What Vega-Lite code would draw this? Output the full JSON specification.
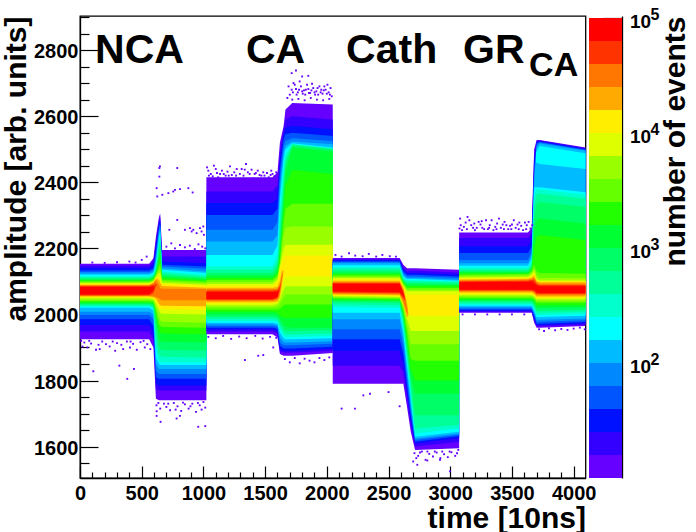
{
"$schema":"https://vega.github.io/schema/vega-lite/v6.json",
"description":"Pulse shapes by time and amplitude, number of events",
"background":"white",
"autosize":{"type":"none"},
"padding":{"left":80,"top":16,"right":616,"bottom":516},
"bounds":"flush",
"config":{"font":"Liberation Sans","axis":{"labelFont":"Liberation Sans","labelFontWeight":"bold","labelColor":"#000","labelFontSize":20,"titleFont":"Liberation Sans","titleFontWeight":"bold","titleColor":"#000","titleFontSize":30,"domainColor":"#000","domainWidth":1.3,"tickColor":"#000","tickWidth":1.2,"grid":false}},
"spacing":3,
"hconcat":[
{"width":505.5,"height":462,"view":{"stroke":"#000","strokeWidth":1.3},
"resolve":{"axis":{"x":"independent","y":"independent"}},
"layer":[
{"data":{"values":[
{"s":1,"n":12.6,"t":0,"lo":1925,"hi":2153},{"s":1,"n":12.6,"t":560,"lo":1925,"hi":2153},{"s":1,"n":12.6,"t":595,"lo":1900,"hi":2170},{"s":1,"n":12.6,"t":615,"lo":1745,"hi":2235},{"s":1,"n":12.6,"t":640,"lo":1740,"hi":2295},{"s":1,"n":12.6,"t":650,"lo":1740,"hi":2305},{"s":1,"n":12.6,"t":665,"lo":1740,"hi":2195},{"s":1,"n":12.6,"t":1024,"lo":1740,"hi":2195},
{"s":1,"n":20,"t":0,"lo":1948,"hi":2147},{"s":1,"n":20,"t":560,"lo":1948,"hi":2147},{"s":1,"n":20,"t":595,"lo":1925,"hi":2160},{"s":1,"n":20,"t":615,"lo":1775,"hi":2220},{"s":1,"n":20,"t":640,"lo":1770,"hi":2285},{"s":1,"n":20,"t":650,"lo":1770,"hi":2295},{"s":1,"n":20,"t":665,"lo":1770,"hi":2175},{"s":1,"n":20,"t":1024,"lo":1770,"hi":2175},
{"s":1,"n":32,"t":0,"lo":1968,"hi":2140},{"s":1,"n":32,"t":560,"lo":1968,"hi":2140},{"s":1,"n":32,"t":595,"lo":1945,"hi":2150},{"s":1,"n":32,"t":615,"lo":1790,"hi":2205},{"s":1,"n":32,"t":640,"lo":1785,"hi":2275},{"s":1,"n":32,"t":650,"lo":1785,"hi":2285},{"s":1,"n":32,"t":665,"lo":1785,"hi":2160},{"s":1,"n":32,"t":1024,"lo":1785,"hi":2155},
{"s":1,"n":50,"t":0,"lo":1985,"hi":2133},{"s":1,"n":50,"t":560,"lo":1985,"hi":2133},{"s":1,"n":50,"t":595,"lo":1965,"hi":2140},{"s":1,"n":50,"t":615,"lo":1810,"hi":2190},{"s":1,"n":50,"t":640,"lo":1805,"hi":2265},{"s":1,"n":50,"t":650,"lo":1805,"hi":2278},{"s":1,"n":50,"t":665,"lo":1805,"hi":2150},{"s":1,"n":50,"t":1024,"lo":1805,"hi":2145},
{"s":1,"n":79,"t":0,"lo":1998,"hi":2128},{"s":1,"n":79,"t":560,"lo":1998,"hi":2128},{"s":1,"n":79,"t":595,"lo":1985,"hi":2135},{"s":1,"n":79,"t":615,"lo":1830,"hi":2175},{"s":1,"n":79,"t":640,"lo":1820,"hi":2255},{"s":1,"n":79,"t":650,"lo":1820,"hi":2270},{"s":1,"n":79,"t":665,"lo":1820,"hi":2145},{"s":1,"n":79,"t":1024,"lo":1820,"hi":2138},
{"s":1,"n":126,"t":0,"lo":2008,"hi":2124},{"s":1,"n":126,"t":560,"lo":2008,"hi":2124},{"s":1,"n":126,"t":595,"lo":2000,"hi":2130},{"s":1,"n":126,"t":615,"lo":1850,"hi":2165},{"s":1,"n":126,"t":640,"lo":1835,"hi":2245},{"s":1,"n":126,"t":650,"lo":1835,"hi":2260},{"s":1,"n":126,"t":665,"lo":1835,"hi":2140},{"s":1,"n":126,"t":1024,"lo":1835,"hi":2130},
{"s":1,"n":200,"t":0,"lo":2020,"hi":2120},{"s":1,"n":200,"t":560,"lo":2020,"hi":2120},{"s":1,"n":200,"t":595,"lo":2012,"hi":2126},{"s":1,"n":200,"t":615,"lo":1870,"hi":2155},{"s":1,"n":200,"t":640,"lo":1850,"hi":2235},{"s":1,"n":200,"t":650,"lo":1848,"hi":2250},{"s":1,"n":200,"t":665,"lo":1847,"hi":2135},{"s":1,"n":200,"t":1024,"lo":1847,"hi":2125},
{"s":1,"n":316,"t":0,"lo":2024,"hi":2116},{"s":1,"n":316,"t":560,"lo":2024,"hi":2116},{"s":1,"n":316,"t":595,"lo":2018,"hi":2122},{"s":1,"n":316,"t":615,"lo":1900,"hi":2145},{"s":1,"n":316,"t":640,"lo":1860,"hi":2220},{"s":1,"n":316,"t":650,"lo":1857,"hi":2240},{"s":1,"n":316,"t":665,"lo":1855,"hi":2130},{"s":1,"n":316,"t":1024,"lo":1855,"hi":2120},
{"s":1,"n":501,"t":0,"lo":2027,"hi":2112},{"s":1,"n":501,"t":560,"lo":2027,"hi":2112},{"s":1,"n":501,"t":595,"lo":2022,"hi":2118},{"s":1,"n":501,"t":615,"lo":1930,"hi":2138},{"s":1,"n":501,"t":640,"lo":1880,"hi":2205},{"s":1,"n":501,"t":650,"lo":1875,"hi":2225},{"s":1,"n":501,"t":665,"lo":1872,"hi":2125},{"s":1,"n":501,"t":1024,"lo":1870,"hi":2115},
{"s":1,"n":794,"t":0,"lo":2030,"hi":2109},{"s":1,"n":794,"t":560,"lo":2030,"hi":2109},{"s":1,"n":794,"t":595,"lo":2026,"hi":2115},{"s":1,"n":794,"t":615,"lo":1960,"hi":2132},{"s":1,"n":794,"t":640,"lo":1900,"hi":2190},{"s":1,"n":794,"t":650,"lo":1895,"hi":2210},{"s":1,"n":794,"t":665,"lo":1892,"hi":2120},{"s":1,"n":794,"t":1024,"lo":1890,"hi":2111},
{"s":1,"n":1259,"t":0,"lo":2033,"hi":2106},{"s":1,"n":1259,"t":560,"lo":2033,"hi":2106},{"s":1,"n":1259,"t":595,"lo":2030,"hi":2112},{"s":1,"n":1259,"t":615,"lo":1985,"hi":2128},{"s":1,"n":1259,"t":640,"lo":1925,"hi":2175},{"s":1,"n":1259,"t":650,"lo":1920,"hi":2195},{"s":1,"n":1259,"t":665,"lo":1917,"hi":2115},{"s":1,"n":1259,"t":1024,"lo":1915,"hi":2107},
{"s":1,"n":1995,"t":0,"lo":2036,"hi":2103},{"s":1,"n":1995,"t":560,"lo":2036,"hi":2103},{"s":1,"n":1995,"t":595,"lo":2034,"hi":2109},{"s":1,"n":1995,"t":615,"lo":2000,"hi":2124},{"s":1,"n":1995,"t":640,"lo":1950,"hi":2160},{"s":1,"n":1995,"t":650,"lo":1945,"hi":2175},{"s":1,"n":1995,"t":665,"lo":1942,"hi":2110},{"s":1,"n":1995,"t":1024,"lo":1940,"hi":2103},
{"s":1,"n":3162,"t":0,"lo":2040,"hi":2100},{"s":1,"n":3162,"t":560,"lo":2040,"hi":2100},{"s":1,"n":3162,"t":595,"lo":2038,"hi":2106},{"s":1,"n":3162,"t":615,"lo":2012,"hi":2120},{"s":1,"n":3162,"t":640,"lo":1970,"hi":2145},{"s":1,"n":3162,"t":650,"lo":1965,"hi":2155},{"s":1,"n":3162,"t":665,"lo":1962,"hi":2105},{"s":1,"n":3162,"t":1024,"lo":1960,"hi":2099},
{"s":1,"n":5012,"t":0,"lo":2044,"hi":2097},{"s":1,"n":5012,"t":560,"lo":2044,"hi":2097},{"s":1,"n":5012,"t":595,"lo":2042,"hi":2103},{"s":1,"n":5012,"t":615,"lo":2022,"hi":2117},{"s":1,"n":5012,"t":640,"lo":1990,"hi":2135},{"s":1,"n":5012,"t":650,"lo":1982,"hi":2140},{"s":1,"n":5012,"t":665,"lo":1978,"hi":2100},{"s":1,"n":5012,"t":1024,"lo":1975,"hi":2095},
{"s":1,"n":7943,"t":0,"lo":2048,"hi":2095},{"s":1,"n":7943,"t":560,"lo":2048,"hi":2095},{"s":1,"n":7943,"t":595,"lo":2046,"hi":2100},{"s":1,"n":7943,"t":615,"lo":2032,"hi":2114},{"s":1,"n":7943,"t":640,"lo":2010,"hi":2125},{"s":1,"n":7943,"t":650,"lo":2004,"hi":2125},{"s":1,"n":7943,"t":665,"lo":2002,"hi":2096},{"s":1,"n":7943,"t":1024,"lo":2000,"hi":2090},
{"s":1,"n":12589,"t":0,"lo":2051,"hi":2092},{"s":1,"n":12589,"t":560,"lo":2051,"hi":2092},{"s":1,"n":12589,"t":595,"lo":2049,"hi":2098},{"s":1,"n":12589,"t":615,"lo":2040,"hi":2111},{"s":1,"n":12589,"t":640,"lo":2022,"hi":2115},{"s":1,"n":12589,"t":650,"lo":2018,"hi":2110},{"s":1,"n":12589,"t":665,"lo":2016,"hi":2092},{"s":1,"n":12589,"t":1024,"lo":2015,"hi":2087},
{"s":1,"n":19953,"t":0,"lo":2054,"hi":2090},{"s":1,"n":19953,"t":560,"lo":2054,"hi":2090},{"s":1,"n":19953,"t":595,"lo":2052,"hi":2096},{"s":1,"n":19953,"t":615,"lo":2048,"hi":2108},{"s":1,"n":19953,"t":640,"lo":2032,"hi":2105},{"s":1,"n":19953,"t":650,"lo":2028,"hi":2095},{"s":1,"n":19953,"t":665,"lo":2026,"hi":2086},{"s":1,"n":19953,"t":1024,"lo":2025,"hi":2081},
{"s":1,"n":31623,"t":0,"lo":2056,"hi":2088},{"s":1,"n":31623,"t":560,"lo":2056,"hi":2088},{"s":1,"n":31623,"t":595,"lo":2055,"hi":2094},{"s":1,"n":31623,"t":615,"lo":2053,"hi":2104},{"s":1,"n":31623,"t":640,"lo":2048,"hi":2090},{"s":1,"n":31623,"t":650,"lo":2045,"hi":2080},{"s":1,"n":31623,"t":665,"lo":2043,"hi":2078},{"s":1,"n":31623,"t":1024,"lo":2043,"hi":2077},
{"s":1,"n":50119,"t":0,"lo":2058,"hi":2086},{"s":1,"n":50119,"t":560,"lo":2058,"hi":2086},{"s":1,"n":50119,"t":595,"lo":2064,"hi":2090},{"s":1,"n":50119,"t":615,"lo":2085,"hi":2092},{"s":1,"n":50119,"t":625,"lo":2088,"hi":2088},
{"s":1,"n":79433,"t":0,"lo":2060,"hi":2083},{"s":1,"n":79433,"t":560,"lo":2060,"hi":2083},{"s":1,"n":79433,"t":595,"lo":2072,"hi":2086},{"s":1,"n":79433,"t":605,"lo":2080,"hi":2080},

{"s":2,"n":12.6,"t":1024,"lo":1940,"hi":2415},{"s":2,"n":12.6,"t":1560,"lo":1940,"hi":2415},{"s":2,"n":12.6,"t":1600,"lo":1930,"hi":2430},{"s":2,"n":12.6,"t":1620,"lo":1880,"hi":2520},{"s":2,"n":12.6,"t":1650,"lo":1875,"hi":2570},{"s":2,"n":12.6,"t":1665,"lo":1875,"hi":2620},{"s":2,"n":12.6,"t":1720,"lo":1875,"hi":2640},{"s":2,"n":12.6,"t":2048,"lo":1883,"hi":2635},
{"s":2,"n":20,"t":1024,"lo":1948,"hi":2372},{"s":2,"n":20,"t":1560,"lo":1948,"hi":2372},{"s":2,"n":20,"t":1600,"lo":1942,"hi":2390},{"s":2,"n":20,"t":1620,"lo":1888,"hi":2490},{"s":2,"n":20,"t":1650,"lo":1885,"hi":2560},{"s":2,"n":20,"t":1665,"lo":1885,"hi":2590},{"s":2,"n":20,"t":1720,"lo":1885,"hi":2600},{"s":2,"n":20,"t":2048,"lo":1890,"hi":2590},
{"s":2,"n":32,"t":1024,"lo":1955,"hi":2337},{"s":2,"n":32,"t":1560,"lo":1955,"hi":2337},{"s":2,"n":32,"t":1600,"lo":1950,"hi":2350},{"s":2,"n":32,"t":1620,"lo":1895,"hi":2470},{"s":2,"n":32,"t":1650,"lo":1890,"hi":2545},{"s":2,"n":32,"t":1665,"lo":1890,"hi":2565},{"s":2,"n":32,"t":1720,"lo":1890,"hi":2570},{"s":2,"n":32,"t":2048,"lo":1896,"hi":2560},
{"s":2,"n":50,"t":1024,"lo":1960,"hi":2301},{"s":2,"n":50,"t":1560,"lo":1960,"hi":2301},{"s":2,"n":50,"t":1600,"lo":1957,"hi":2320},{"s":2,"n":50,"t":1620,"lo":1905,"hi":2440},{"s":2,"n":50,"t":1650,"lo":1897,"hi":2530},{"s":2,"n":50,"t":1665,"lo":1897,"hi":2545},{"s":2,"n":50,"t":1720,"lo":1897,"hi":2550},{"s":2,"n":50,"t":2048,"lo":1902,"hi":2540},
{"s":2,"n":79,"t":1024,"lo":1965,"hi":2256},{"s":2,"n":79,"t":1560,"lo":1965,"hi":2256},{"s":2,"n":79,"t":1600,"lo":1962,"hi":2280},{"s":2,"n":79,"t":1620,"lo":1915,"hi":2410},{"s":2,"n":79,"t":1650,"lo":1907,"hi":2510},{"s":2,"n":79,"t":1665,"lo":1907,"hi":2525},{"s":2,"n":79,"t":1720,"lo":1907,"hi":2533},{"s":2,"n":79,"t":2048,"lo":1911,"hi":2525},
{"s":2,"n":126,"t":1024,"lo":1970,"hi":2221},{"s":2,"n":126,"t":1560,"lo":1970,"hi":2221},{"s":2,"n":126,"t":1600,"lo":1967,"hi":2240},{"s":2,"n":126,"t":1620,"lo":1930,"hi":2380},{"s":2,"n":126,"t":1650,"lo":1916,"hi":2490},{"s":2,"n":126,"t":1665,"lo":1915,"hi":2510},{"s":2,"n":126,"t":1720,"lo":1915,"hi":2523},{"s":2,"n":126,"t":2048,"lo":1919,"hi":2515},
{"s":2,"n":200,"t":1024,"lo":1975,"hi":2180},{"s":2,"n":200,"t":1560,"lo":1975,"hi":2180},{"s":2,"n":200,"t":1600,"lo":1972,"hi":2210},{"s":2,"n":200,"t":1620,"lo":1945,"hi":2350},{"s":2,"n":200,"t":1650,"lo":1928,"hi":2470},{"s":2,"n":200,"t":1665,"lo":1925,"hi":2500},{"s":2,"n":200,"t":1720,"lo":1925,"hi":2518},{"s":2,"n":200,"t":2048,"lo":1928,"hi":2505},
{"s":2,"n":316,"t":1024,"lo":1980,"hi":2145},{"s":2,"n":316,"t":1560,"lo":1980,"hi":2145},{"s":2,"n":316,"t":1600,"lo":1977,"hi":2180},{"s":2,"n":316,"t":1620,"lo":1955,"hi":2310},{"s":2,"n":316,"t":1650,"lo":1936,"hi":2440},{"s":2,"n":316,"t":1665,"lo":1932,"hi":2485},{"s":2,"n":316,"t":1720,"lo":1932,"hi":2516},{"s":2,"n":316,"t":2048,"lo":1935,"hi":2503},
{"s":2,"n":501,"t":1024,"lo":1986,"hi":2135},{"s":2,"n":501,"t":1560,"lo":1986,"hi":2135},{"s":2,"n":501,"t":1600,"lo":1983,"hi":2160},{"s":2,"n":501,"t":1620,"lo":1965,"hi":2270},{"s":2,"n":501,"t":1650,"lo":1945,"hi":2410},{"s":2,"n":501,"t":1665,"lo":1940,"hi":2470},{"s":2,"n":501,"t":1720,"lo":1940,"hi":2514},{"s":2,"n":501,"t":2048,"lo":1942,"hi":2501},
{"s":2,"n":794,"t":1024,"lo":1993,"hi":2125},{"s":2,"n":794,"t":1560,"lo":1993,"hi":2125},{"s":2,"n":794,"t":1600,"lo":1990,"hi":2145},{"s":2,"n":794,"t":1620,"lo":1975,"hi":2230},{"s":2,"n":794,"t":1650,"lo":1955,"hi":2380},{"s":2,"n":794,"t":1665,"lo":1950,"hi":2455},{"s":2,"n":794,"t":1720,"lo":1950,"hi":2512},{"s":2,"n":794,"t":2048,"lo":1952,"hi":2499},
{"s":2,"n":1259,"t":1024,"lo":2000,"hi":2117},{"s":2,"n":1259,"t":1560,"lo":2000,"hi":2117},{"s":2,"n":1259,"t":1600,"lo":1997,"hi":2135},{"s":2,"n":1259,"t":1620,"lo":1985,"hi":2200},{"s":2,"n":1259,"t":1650,"lo":1970,"hi":2350},{"s":2,"n":1259,"t":1665,"lo":1962,"hi":2430},{"s":2,"n":1259,"t":1720,"lo":1960,"hi":2505},{"s":2,"n":1259,"t":2048,"lo":1960,"hi":2493},
{"s":2,"n":1995,"t":1024,"lo":2008,"hi":2110},{"s":2,"n":1995,"t":1560,"lo":2008,"hi":2110},{"s":2,"n":1995,"t":1600,"lo":2005,"hi":2125},{"s":2,"n":1995,"t":1620,"lo":1997,"hi":2175},{"s":2,"n":1995,"t":1650,"lo":1990,"hi":2310},{"s":2,"n":1995,"t":1665,"lo":1990,"hi":2390},{"s":2,"n":1995,"t":1720,"lo":1990,"hi":2437},{"s":2,"n":1995,"t":2048,"lo":1990,"hi":2425},
{"s":2,"n":3162,"t":1024,"lo":2015,"hi":2104},{"s":2,"n":3162,"t":1560,"lo":2015,"hi":2104},{"s":2,"n":3162,"t":1600,"lo":2015,"hi":2118},{"s":2,"n":3162,"t":1620,"lo":2018,"hi":2160},{"s":2,"n":3162,"t":1650,"lo":2028,"hi":2280},{"s":2,"n":3162,"t":1665,"lo":2030,"hi":2320},{"s":2,"n":3162,"t":1720,"lo":2030,"hi":2335},{"s":2,"n":3162,"t":2048,"lo":2030,"hi":2335},
{"s":2,"n":5012,"t":1024,"lo":2022,"hi":2098},{"s":2,"n":5012,"t":1560,"lo":2022,"hi":2098},{"s":2,"n":5012,"t":1600,"lo":2024,"hi":2112},{"s":2,"n":5012,"t":1620,"lo":2032,"hi":2150},{"s":2,"n":5012,"t":1650,"lo":2052,"hi":2240},{"s":2,"n":5012,"t":1665,"lo":2060,"hi":2262},{"s":2,"n":5012,"t":1720,"lo":2060,"hi":2266},{"s":2,"n":5012,"t":2048,"lo":2060,"hi":2266},
{"s":2,"n":7943,"t":1024,"lo":2028,"hi":2092},{"s":2,"n":7943,"t":1560,"lo":2028,"hi":2092},{"s":2,"n":7943,"t":1600,"lo":2032,"hi":2105},{"s":2,"n":7943,"t":1620,"lo":2045,"hi":2145},{"s":2,"n":7943,"t":1650,"lo":2075,"hi":2200},{"s":2,"n":7943,"t":1665,"lo":2085,"hi":2210},{"s":2,"n":7943,"t":1720,"lo":2085,"hi":2211},{"s":2,"n":7943,"t":2048,"lo":2085,"hi":2211},
{"s":2,"n":12589,"t":1024,"lo":2033,"hi":2087},{"s":2,"n":12589,"t":1560,"lo":2034,"hi":2087},{"s":2,"n":12589,"t":1600,"lo":2042,"hi":2100},{"s":2,"n":12589,"t":1620,"lo":2065,"hi":2140},{"s":2,"n":12589,"t":1650,"lo":2100,"hi":2170},{"s":2,"n":12589,"t":1665,"lo":2115,"hi":2178},{"s":2,"n":12589,"t":1720,"lo":2115,"hi":2178},{"s":2,"n":12589,"t":2048,"lo":2115,"hi":2178},
{"s":2,"n":19953,"t":1024,"lo":2037,"hi":2081},{"s":2,"n":19953,"t":1560,"lo":2037,"hi":2081},{"s":2,"n":19953,"t":1600,"lo":2039,"hi":2083},{"s":2,"n":19953,"t":1620,"lo":2052,"hi":2102},{"s":2,"n":19953,"t":1634,"lo":2085,"hi":2130},{"s":2,"n":19953,"t":1650,"lo":2135,"hi":2135},
{"s":2,"n":31623,"t":1024,"lo":2041,"hi":2076},{"s":2,"n":31623,"t":1560,"lo":2041,"hi":2076},{"s":2,"n":31623,"t":1600,"lo":2045,"hi":2078},{"s":2,"n":31623,"t":1620,"lo":2062,"hi":2092},{"s":2,"n":31623,"t":1634,"lo":2100,"hi":2118},{"s":2,"n":31623,"t":1648,"lo":2128,"hi":2128},
{"s":2,"n":50119,"t":1024,"lo":2044,"hi":2072},{"s":2,"n":50119,"t":1560,"lo":2044,"hi":2072},{"s":2,"n":50119,"t":1600,"lo":2050,"hi":2074},{"s":2,"n":50119,"t":1620,"lo":2075,"hi":2085},{"s":2,"n":50119,"t":1632,"lo":2100,"hi":2100},
{"s":2,"n":79433,"t":1024,"lo":2047,"hi":2068},{"s":2,"n":79433,"t":1560,"lo":2047,"hi":2068},{"s":2,"n":79433,"t":1600,"lo":2052,"hi":2069},{"s":2,"n":79433,"t":1615,"lo":2075,"hi":2075},

{"s":3,"n":12.6,"t":2048,"lo":1790,"hi":2171},{"s":3,"n":12.6,"t":2590,"lo":1790,"hi":2171},{"s":3,"n":12.6,"t":2620,"lo":1790,"hi":2150},{"s":3,"n":12.6,"t":2650,"lo":1720,"hi":2140},{"s":3,"n":12.6,"t":2680,"lo":1645,"hi":2140},{"s":3,"n":12.6,"t":2715,"lo":1590,"hi":2140},{"s":3,"n":12.6,"t":3072,"lo":1595,"hi":2135},
{"s":3,"n":20,"t":2048,"lo":1845,"hi":2167},{"s":3,"n":20,"t":2590,"lo":1845,"hi":2167},{"s":3,"n":20,"t":2620,"lo":1825,"hi":2142},{"s":3,"n":20,"t":2650,"lo":1745,"hi":2132},{"s":3,"n":20,"t":2680,"lo":1665,"hi":2132},{"s":3,"n":20,"t":2715,"lo":1600,"hi":2132},{"s":3,"n":20,"t":3072,"lo":1615,"hi":2127},
{"s":3,"n":32,"t":2048,"lo":1890,"hi":2164},{"s":3,"n":32,"t":2590,"lo":1890,"hi":2164},{"s":3,"n":32,"t":2620,"lo":1850,"hi":2136},{"s":3,"n":32,"t":2650,"lo":1765,"hi":2125},{"s":3,"n":32,"t":2680,"lo":1680,"hi":2125},{"s":3,"n":32,"t":2715,"lo":1610,"hi":2125},{"s":3,"n":32,"t":3072,"lo":1626,"hi":2120},
{"s":3,"n":50,"t":2048,"lo":1925,"hi":2161},{"s":3,"n":50,"t":2590,"lo":1925,"hi":2161},{"s":3,"n":50,"t":2620,"lo":1880,"hi":2130},{"s":3,"n":50,"t":2650,"lo":1785,"hi":2120},{"s":3,"n":50,"t":2680,"lo":1695,"hi":2120},{"s":3,"n":50,"t":2715,"lo":1615,"hi":2120},{"s":3,"n":50,"t":3072,"lo":1632,"hi":2115},
{"s":3,"n":79,"t":2048,"lo":1955,"hi":2158},{"s":3,"n":79,"t":2590,"lo":1955,"hi":2158},{"s":3,"n":79,"t":2620,"lo":1905,"hi":2125},{"s":3,"n":79,"t":2650,"lo":1805,"hi":2115},{"s":3,"n":79,"t":2680,"lo":1710,"hi":2115},{"s":3,"n":79,"t":2715,"lo":1620,"hi":2115},{"s":3,"n":79,"t":3072,"lo":1636,"hi":2110},
{"s":3,"n":126,"t":2048,"lo":1985,"hi":2155},{"s":3,"n":126,"t":2590,"lo":1985,"hi":2155},{"s":3,"n":126,"t":2620,"lo":1925,"hi":2120},{"s":3,"n":126,"t":2650,"lo":1825,"hi":2110},{"s":3,"n":126,"t":2680,"lo":1725,"hi":2110},{"s":3,"n":126,"t":2715,"lo":1624,"hi":2110},{"s":3,"n":126,"t":3072,"lo":1640,"hi":2105},
{"s":3,"n":200,"t":2048,"lo":2005,"hi":2149},{"s":3,"n":200,"t":2590,"lo":2005,"hi":2149},{"s":3,"n":200,"t":2620,"lo":1945,"hi":2115},{"s":3,"n":200,"t":2650,"lo":1845,"hi":2107},{"s":3,"n":200,"t":2680,"lo":1745,"hi":2107},{"s":3,"n":200,"t":2715,"lo":1630,"hi":2107},{"s":3,"n":200,"t":3072,"lo":1645,"hi":2102},
{"s":3,"n":316,"t":2048,"lo":2022,"hi":2143},{"s":3,"n":316,"t":2590,"lo":2020,"hi":2143},{"s":3,"n":316,"t":2620,"lo":1960,"hi":2111},{"s":3,"n":316,"t":2650,"lo":1860,"hi":2103},{"s":3,"n":316,"t":2680,"lo":1760,"hi":2103},{"s":3,"n":316,"t":2715,"lo":1640,"hi":2103},{"s":3,"n":316,"t":3072,"lo":1655,"hi":2100},
{"s":3,"n":501,"t":2048,"lo":2030,"hi":2138},{"s":3,"n":501,"t":2590,"lo":2028,"hi":2138},{"s":3,"n":501,"t":2620,"lo":1970,"hi":2107},{"s":3,"n":501,"t":2650,"lo":1875,"hi":2100},{"s":3,"n":501,"t":2680,"lo":1775,"hi":2100},{"s":3,"n":501,"t":2715,"lo":1655,"hi":2100},{"s":3,"n":501,"t":3072,"lo":1665,"hi":2097},
{"s":3,"n":794,"t":2048,"lo":2037,"hi":2132},{"s":3,"n":794,"t":2590,"lo":2035,"hi":2132},{"s":3,"n":794,"t":2620,"lo":1985,"hi":2103},{"s":3,"n":794,"t":2650,"lo":1890,"hi":2095},{"s":3,"n":794,"t":2680,"lo":1795,"hi":2095},{"s":3,"n":794,"t":2715,"lo":1695,"hi":2095},{"s":3,"n":794,"t":3072,"lo":1695,"hi":2093},
{"s":3,"n":1259,"t":2048,"lo":2042,"hi":2127},{"s":3,"n":1259,"t":2590,"lo":2040,"hi":2127},{"s":3,"n":1259,"t":2620,"lo":1995,"hi":2100},{"s":3,"n":1259,"t":2650,"lo":1910,"hi":2090},{"s":3,"n":1259,"t":2680,"lo":1815,"hi":2090},{"s":3,"n":1259,"t":2715,"lo":1760,"hi":2090},{"s":3,"n":1259,"t":3072,"lo":1760,"hi":2090},
{"s":3,"n":1995,"t":2048,"lo":2045,"hi":2122},{"s":3,"n":1995,"t":2590,"lo":2043,"hi":2122},{"s":3,"n":1995,"t":2620,"lo":2005,"hi":2097},{"s":3,"n":1995,"t":2650,"lo":1925,"hi":2085},{"s":3,"n":1995,"t":2680,"lo":1835,"hi":2085},{"s":3,"n":1995,"t":2715,"lo":1800,"hi":2085},{"s":3,"n":1995,"t":3072,"lo":1800,"hi":2085},
{"s":3,"n":3162,"t":2048,"lo":2049,"hi":2118},{"s":3,"n":3162,"t":2590,"lo":2047,"hi":2118},{"s":3,"n":3162,"t":2620,"lo":2012,"hi":2094},{"s":3,"n":3162,"t":2650,"lo":1945,"hi":2080},{"s":3,"n":3162,"t":2680,"lo":1865,"hi":2080},{"s":3,"n":3162,"t":2715,"lo":1860,"hi":2080},{"s":3,"n":3162,"t":3072,"lo":1860,"hi":2080},
{"s":3,"n":5012,"t":2048,"lo":2052,"hi":2114},{"s":3,"n":5012,"t":2590,"lo":2050,"hi":2114},{"s":3,"n":5012,"t":2620,"lo":2020,"hi":2091},{"s":3,"n":5012,"t":2650,"lo":1965,"hi":2075},{"s":3,"n":5012,"t":2680,"lo":1910,"hi":2075},{"s":3,"n":5012,"t":2715,"lo":1910,"hi":2075},{"s":3,"n":5012,"t":3072,"lo":1910,"hi":2075},
{"s":3,"n":7943,"t":2048,"lo":2055,"hi":2110},{"s":3,"n":7943,"t":2590,"lo":2053,"hi":2110},{"s":3,"n":7943,"t":2620,"lo":2028,"hi":2088},{"s":3,"n":7943,"t":2650,"lo":1985,"hi":2070},{"s":3,"n":7943,"t":2680,"lo":1950,"hi":2070},{"s":3,"n":7943,"t":2715,"lo":1950,"hi":2070},{"s":3,"n":7943,"t":3072,"lo":1950,"hi":2070},
{"s":3,"n":12589,"t":2048,"lo":2057,"hi":2106},{"s":3,"n":12589,"t":2590,"lo":2055,"hi":2106},{"s":3,"n":12589,"t":2620,"lo":2035,"hi":2085},{"s":3,"n":12589,"t":2650,"lo":2005,"hi":2060},{"s":3,"n":12589,"t":2680,"lo":1995,"hi":2060},{"s":3,"n":12589,"t":2715,"lo":1995,"hi":2060},{"s":3,"n":12589,"t":3072,"lo":1995,"hi":2060},
{"s":3,"n":19953,"t":2048,"lo":2060,"hi":2102},{"s":3,"n":19953,"t":2590,"lo":2058,"hi":2102},{"s":3,"n":19953,"t":2620,"lo":2030,"hi":2080},{"s":3,"n":19953,"t":2650,"lo":1990,"hi":2035},{"s":3,"n":19953,"t":2662,"lo":2000,"hi":2000},
{"s":3,"n":31623,"t":2048,"lo":2063,"hi":2098},{"s":3,"n":31623,"t":2590,"lo":2061,"hi":2098},{"s":3,"n":31623,"t":2620,"lo":2040,"hi":2075},{"s":3,"n":31623,"t":2650,"lo":2005,"hi":2020},{"s":3,"n":31623,"t":2656,"lo":2005,"hi":2005},
{"s":3,"n":50119,"t":2048,"lo":2066,"hi":2095},{"s":3,"n":50119,"t":2590,"lo":2064,"hi":2095},{"s":3,"n":50119,"t":2620,"lo":2048,"hi":2070},{"s":3,"n":50119,"t":2640,"lo":2040,"hi":2040},
{"s":3,"n":79433,"t":2048,"lo":2069,"hi":2093},{"s":3,"n":79433,"t":2590,"lo":2067,"hi":2093},{"s":3,"n":79433,"t":2620,"lo":2055,"hi":2065},{"s":3,"n":79433,"t":2632,"lo":2050,"hi":2050},

{"s":4,"n":12.6,"t":3072,"lo":2005,"hi":2248},{"s":4,"n":12.6,"t":3630,"lo":2005,"hi":2248},{"s":4,"n":12.6,"t":3660,"lo":2005,"hi":2262},{"s":4,"n":12.6,"t":3680,"lo":1975,"hi":2500},{"s":4,"n":12.6,"t":3700,"lo":1960,"hi":2528},{"s":4,"n":12.6,"t":3725,"lo":1960,"hi":2528},{"s":4,"n":12.6,"t":4096,"lo":1965,"hi":2505},
{"s":4,"n":20,"t":3072,"lo":2008,"hi":2231},{"s":4,"n":20,"t":3630,"lo":2008,"hi":2231},{"s":4,"n":20,"t":3660,"lo":2008,"hi":2245},{"s":4,"n":20,"t":3680,"lo":1982,"hi":2480},{"s":4,"n":20,"t":3700,"lo":1964,"hi":2525},{"s":4,"n":20,"t":3725,"lo":1964,"hi":2526},{"s":4,"n":20,"t":4096,"lo":1969,"hi":2503},
{"s":4,"n":32,"t":3072,"lo":2011,"hi":2206},{"s":4,"n":32,"t":3630,"lo":2011,"hi":2206},{"s":4,"n":32,"t":3660,"lo":2011,"hi":2225},{"s":4,"n":32,"t":3680,"lo":1988,"hi":2460},{"s":4,"n":32,"t":3700,"lo":1968,"hi":2522},{"s":4,"n":32,"t":3725,"lo":1968,"hi":2524},{"s":4,"n":32,"t":4096,"lo":1973,"hi":2501},
{"s":4,"n":50,"t":3072,"lo":2014,"hi":2186},{"s":4,"n":50,"t":3630,"lo":2014,"hi":2186},{"s":4,"n":50,"t":3660,"lo":2014,"hi":2205},{"s":4,"n":50,"t":3680,"lo":1995,"hi":2440},{"s":4,"n":50,"t":3700,"lo":1972,"hi":2518},{"s":4,"n":50,"t":3725,"lo":1972,"hi":2522},{"s":4,"n":50,"t":4096,"lo":1977,"hi":2499},
{"s":4,"n":79,"t":3072,"lo":2018,"hi":2165},{"s":4,"n":79,"t":3630,"lo":2018,"hi":2165},{"s":4,"n":79,"t":3660,"lo":2018,"hi":2190},{"s":4,"n":79,"t":3680,"lo":2000,"hi":2420},{"s":4,"n":79,"t":3700,"lo":1978,"hi":2512},{"s":4,"n":79,"t":3725,"lo":1978,"hi":2520},{"s":4,"n":79,"t":4096,"lo":1982,"hi":2497},
{"s":4,"n":126,"t":3072,"lo":2022,"hi":2155},{"s":4,"n":126,"t":3630,"lo":2022,"hi":2155},{"s":4,"n":126,"t":3660,"lo":2022,"hi":2178},{"s":4,"n":126,"t":3680,"lo":2006,"hi":2400},{"s":4,"n":126,"t":3700,"lo":1984,"hi":2505},{"s":4,"n":126,"t":3725,"lo":1984,"hi":2517},{"s":4,"n":126,"t":4096,"lo":1988,"hi":2495},
{"s":4,"n":200,"t":3072,"lo":2026,"hi":2147},{"s":4,"n":200,"t":3630,"lo":2026,"hi":2147},{"s":4,"n":200,"t":3660,"lo":2026,"hi":2168},{"s":4,"n":200,"t":3680,"lo":2012,"hi":2385},{"s":4,"n":200,"t":3700,"lo":1992,"hi":2385},{"s":4,"n":200,"t":3725,"lo":1992,"hi":2385},{"s":4,"n":200,"t":4096,"lo":1996,"hi":2370},
{"s":4,"n":316,"t":3072,"lo":2030,"hi":2141},{"s":4,"n":316,"t":3630,"lo":2030,"hi":2141},{"s":4,"n":316,"t":3660,"lo":2030,"hi":2160},{"s":4,"n":316,"t":3680,"lo":2018,"hi":2360},{"s":4,"n":316,"t":3700,"lo":1998,"hi":2378},{"s":4,"n":316,"t":3725,"lo":1998,"hi":2378},{"s":4,"n":316,"t":4096,"lo":2001,"hi":2362},
{"s":4,"n":501,"t":3072,"lo":2034,"hi":2136},{"s":4,"n":501,"t":3630,"lo":2034,"hi":2136},{"s":4,"n":501,"t":3660,"lo":2034,"hi":2150},{"s":4,"n":501,"t":3680,"lo":2024,"hi":2330},{"s":4,"n":501,"t":3700,"lo":2005,"hi":2362},{"s":4,"n":501,"t":3725,"lo":2005,"hi":2365},{"s":4,"n":501,"t":4096,"lo":2008,"hi":2350},
{"s":4,"n":794,"t":3072,"lo":2038,"hi":2132},{"s":4,"n":794,"t":3630,"lo":2038,"hi":2132},{"s":4,"n":794,"t":3660,"lo":2038,"hi":2145},{"s":4,"n":794,"t":3680,"lo":2030,"hi":2290},{"s":4,"n":794,"t":3700,"lo":2012,"hi":2335},{"s":4,"n":794,"t":3725,"lo":2012,"hi":2340},{"s":4,"n":794,"t":4096,"lo":2014,"hi":2325},
{"s":4,"n":1259,"t":3072,"lo":2042,"hi":2128},{"s":4,"n":1259,"t":3630,"lo":2042,"hi":2128},{"s":4,"n":1259,"t":3660,"lo":2042,"hi":2140},{"s":4,"n":1259,"t":3680,"lo":2035,"hi":2250},{"s":4,"n":1259,"t":3700,"lo":2020,"hi":2285},{"s":4,"n":1259,"t":3725,"lo":2020,"hi":2290},{"s":4,"n":1259,"t":4096,"lo":2021,"hi":2275},
{"s":4,"n":1995,"t":3072,"lo":2046,"hi":2124},{"s":4,"n":1995,"t":3630,"lo":2046,"hi":2124},{"s":4,"n":1995,"t":3660,"lo":2046,"hi":2135},{"s":4,"n":1995,"t":3680,"lo":2041,"hi":2200},{"s":4,"n":1995,"t":3700,"lo":2028,"hi":2235},{"s":4,"n":1995,"t":3725,"lo":2028,"hi":2240},{"s":4,"n":1995,"t":4096,"lo":2028,"hi":2225},
{"s":4,"n":3162,"t":3072,"lo":2050,"hi":2120},{"s":4,"n":3162,"t":3630,"lo":2050,"hi":2122},{"s":4,"n":3162,"t":3660,"lo":2050,"hi":2130},{"s":4,"n":3162,"t":3680,"lo":2046,"hi":2150},{"s":4,"n":3162,"t":3700,"lo":2035,"hi":2130},{"s":4,"n":3162,"t":3725,"lo":2035,"hi":2125},{"s":4,"n":3162,"t":4096,"lo":2035,"hi":2123},
{"s":4,"n":5012,"t":3072,"lo":2054,"hi":2116},{"s":4,"n":5012,"t":3630,"lo":2054,"hi":2118},{"s":4,"n":5012,"t":3660,"lo":2054,"hi":2125},{"s":4,"n":5012,"t":3680,"lo":2050,"hi":2140},{"s":4,"n":5012,"t":3700,"lo":2040,"hi":2118},{"s":4,"n":5012,"t":3725,"lo":2040,"hi":2110},{"s":4,"n":5012,"t":4096,"lo":2040,"hi":2110},
{"s":4,"n":7943,"t":3072,"lo":2058,"hi":2112},{"s":4,"n":7943,"t":3630,"lo":2058,"hi":2114},{"s":4,"n":7943,"t":3660,"lo":2058,"hi":2120},{"s":4,"n":7943,"t":3680,"lo":2054,"hi":2132},{"s":4,"n":7943,"t":3700,"lo":2046,"hi":2108},{"s":4,"n":7943,"t":3725,"lo":2046,"hi":2103},{"s":4,"n":7943,"t":4096,"lo":2046,"hi":2103},
{"s":4,"n":12589,"t":3072,"lo":2062,"hi":2109},{"s":4,"n":12589,"t":3630,"lo":2062,"hi":2111},{"s":4,"n":12589,"t":3660,"lo":2062,"hi":2116},{"s":4,"n":12589,"t":3680,"lo":2058,"hi":2125},{"s":4,"n":12589,"t":3700,"lo":2050,"hi":2104},{"s":4,"n":12589,"t":3725,"lo":2050,"hi":2100},{"s":4,"n":12589,"t":4096,"lo":2050,"hi":2100},
{"s":4,"n":19953,"t":3072,"lo":2066,"hi":2106},{"s":4,"n":19953,"t":3630,"lo":2066,"hi":2108},{"s":4,"n":19953,"t":3660,"lo":2066,"hi":2112},{"s":4,"n":19953,"t":3680,"lo":2062,"hi":2118},{"s":4,"n":19953,"t":3700,"lo":2054,"hi":2100},{"s":4,"n":19953,"t":3725,"lo":2054,"hi":2097},{"s":4,"n":19953,"t":4096,"lo":2054,"hi":2097},
{"s":4,"n":31623,"t":3072,"lo":2069,"hi":2103},{"s":4,"n":31623,"t":3630,"lo":2069,"hi":2105},{"s":4,"n":31623,"t":3660,"lo":2069,"hi":2108},{"s":4,"n":31623,"t":3680,"lo":2066,"hi":2110},{"s":4,"n":31623,"t":3700,"lo":2058,"hi":2097},{"s":4,"n":31623,"t":3725,"lo":2058,"hi":2093},{"s":4,"n":31623,"t":4096,"lo":2058,"hi":2093},
{"s":4,"n":50119,"t":3072,"lo":2072,"hi":2100},{"s":4,"n":50119,"t":3630,"lo":2072,"hi":2102},{"s":4,"n":50119,"t":3660,"lo":2072,"hi":2105},{"s":4,"n":50119,"t":3680,"lo":2069,"hi":2105},{"s":4,"n":50119,"t":3700,"lo":2062,"hi":2093},{"s":4,"n":50119,"t":3725,"lo":2062,"hi":2089},{"s":4,"n":50119,"t":4096,"lo":2062,"hi":2089},
{"s":4,"n":79433,"t":3072,"lo":2075,"hi":2097},{"s":4,"n":79433,"t":3630,"lo":2075,"hi":2099},{"s":4,"n":79433,"t":3660,"lo":2075,"hi":2100},{"s":4,"n":79433,"t":3680,"lo":2073,"hi":2095},{"s":4,"n":79433,"t":3700,"lo":2066,"hi":2088},{"s":4,"n":79433,"t":3725,"lo":2065,"hi":2085},{"s":4,"n":79433,"t":4096,"lo":2065,"hi":2085},

{"s":5,"n":200,"t":3695,"lo":2460,"hi":2490},{"s":5,"n":200,"t":3725,"lo":2455,"hi":2510},{"s":5,"n":200,"t":4096,"lo":2440,"hi":2488}
]},
"mark":{"type":"area","interpolate":"linear"},
"encoding":{
"x":{"field":"t","type":"quantitative","scale":{"domain":[0,4096],"nice":false,"zero":false},"axis":{"orient":"bottom","values":[0,500,1000,1500,2000,2500,3000,3500,4000],"format":"d","tickSize":-12,"labelPadding":17,"title":"time [10ns]","titleAnchor":"end","titlePadding":0,"labelFlush":false,"labelOverlap":false}},
"y":{"field":"lo","type":"quantitative","scale":{"domain":[1505,2903],"nice":false,"zero":false},"stack":false,"axis":{"orient":"left","values":[1600,1800,2000,2200,2400,2600,2800],"format":"d","tickSize":-18,"labelPadding":20,"labelOffset":1.5,"title":"amplitude [arb. units]","titleAnchor":"end","titlePadding":2,"labelOverlap":false}},
"y2":{"field":"hi"},
"detail":[{"field":"s","type":"nominal"},{"field":"n","type":"nominal"}],
"color":{"field":"n","type":"quantitative","legend":null,"scale":{"type":"threshold","domain":[15.85,25.12,39.81,63.1,100,158.5,251.2,398.1,631,1000,1585,2512,3981,6310,10000,15849,25119,39811,63096],"range":["#6600ff","#3300ff","#0011ff","#0055ff","#0088ff","#00bbff","#00ffff","#00ffcc","#00ff99","#00ff66","#00ff33","#22ff00","#66ff00","#99ff00","#ddff00","#ffee00","#ffaa00","#ff7700","#ff3300","#ff0000"]}}
}},
{"data":{"values":[
{"t":108,"a":1828},{"t":319,"a":1845},{"t":437,"a":1835},{"t":383,"a":1805},
{"t":20,"a":1903},{"t":60,"a":1900},{"t":130,"a":1893},{"t":160,"a":1895},{"t":240,"a":1903},{"t":350,"a":1895},{"t":405,"a":1900},{"t":460,"a":1893},{"t":525,"a":1900},{"t":570,"a":1895},{"t":285,"a":1890},
{"t":35,"a":1915},{"t":90,"a":1912},{"t":180,"a":1918},{"t":210,"a":1910},{"t":300,"a":1913},{"t":380,"a":1918},{"t":430,"a":1911},{"t":490,"a":1916},{"t":545,"a":1910},{"t":10,"a":1920},{"t":75,"a":1920},{"t":150,"a":1908},{"t":265,"a":1918},{"t":335,"a":1908},{"t":410,"a":1918},{"t":515,"a":1920},
{"t":100,"a":2157},{"t":200,"a":2156},{"t":300,"a":2158},{"t":400,"a":2160},{"t":450,"a":2157},{"t":500,"a":2165},{"t":540,"a":2175},
{"t":700,"a":2205},{"t":740,"a":2215},{"t":770,"a":2200},{"t":810,"a":2210},{"t":850,"a":2203},{"t":890,"a":2208},{"t":930,"a":2198},{"t":960,"a":2212},{"t":990,"a":2205},{"t":1015,"a":2200},
{"t":850,"a":2256},{"t":891,"a":2261},{"t":905,"a":2251},{"t":918,"a":2256},{"t":945,"a":2246},{"t":972,"a":2261},{"t":985,"a":2251},{"t":999,"a":2266},{"t":1004,"a":2241},
{"t":648,"a":2448},{"t":643,"a":2443},{"t":643,"a":2417},{"t":788,"a":2443},{"t":621,"a":2382},{"t":667,"a":2362},{"t":716,"a":2367},{"t":756,"a":2372},{"t":770,"a":2377},{"t":810,"a":2379},{"t":878,"a":2382},{"t":913,"a":2369},{"t":626,"a":2357},{"t":788,"a":2286},{"t":724,"a":2256},
{"t":620,"a":1725},{"t":650,"a":1715},{"t":680,"a":1730},{"t":700,"a":1720},{"t":730,"a":1710},{"t":760,"a":1732},{"t":790,"a":1722},{"t":820,"a":1708},{"t":850,"a":1728},{"t":880,"a":1715},{"t":910,"a":1730},{"t":940,"a":1705},{"t":970,"a":1725},{"t":1000,"a":1735},{"t":1015,"a":1718},{"t":635,"a":1732},{"t":715,"a":1730},{"t":775,"a":1712},{"t":835,"a":1733},{"t":895,"a":1722},{"t":955,"a":1732},{"t":985,"a":1712},
{"t":621,"a":1707},{"t":621,"a":1693},{"t":653,"a":1675},{"t":783,"a":1685},{"t":958,"a":1660},{"t":1015,"a":1662},{"t":810,"a":1693},
{"t":1030,"a":2445},{"t":1060,"a":2425},{"t":1085,"a":2450},{"t":1120,"a":2415},{"t":1150,"a":2435},{"t":1180,"a":2420},{"t":1215,"a":2448},{"t":1250,"a":2430},{"t":1280,"a":2410},{"t":1310,"a":2440},{"t":1345,"a":2455},{"t":1375,"a":2425},{"t":1405,"a":2412},{"t":1440,"a":2435},{"t":1470,"a":2420},{"t":1500,"a":2405},{"t":1530,"a":2415},{"t":1560,"a":2425},{"t":1590,"a":2430},
{"t":1045,"a":2420},{"t":1100,"a":2440},{"t":1165,"a":2425},{"t":1230,"a":2422},{"t":1295,"a":2425},{"t":1360,"a":2430},{"t":1425,"a":2428},{"t":1485,"a":2430},{"t":1545,"a":2422},{"t":1600,"a":2425},
{"t":1075,"a":2418},{"t":1135,"a":2425},{"t":1195,"a":2432},{"t":1265,"a":2420},{"t":1325,"a":2420},{"t":1390,"a":2438},{"t":1455,"a":2422},{"t":1515,"a":2428},{"t":1575,"a":2418},{"t":1040,"a":2435},{"t":1110,"a":2428},{"t":1205,"a":2420},{"t":1270,"a":2440},{"t":1335,"a":2438},{"t":1415,"a":2425},{"t":1495,"a":2420},{"t":1550,"a":2435},
{"t":1040,"a":1932},{"t":1100,"a":1928},{"t":1160,"a":1935},{"t":1225,"a":1926},{"t":1290,"a":1933},{"t":1350,"a":1928},{"t":1420,"a":1935},{"t":1480,"a":1927},{"t":1540,"a":1932},{"t":1590,"a":1929},
{"t":1336,"a":1862},{"t":1444,"a":1875},{"t":1485,"a":1877},{"t":1566,"a":1900},
{"t":1750,"a":2738},{"t":1715,"a":2730},{"t":1800,"a":2720},{"t":1850,"a":2722},
{"t":1690,"a":2690},{"t":1715,"a":2680},{"t":1740,"a":2695},{"t":1765,"a":2672},{"t":1790,"a":2690},{"t":1815,"a":2678},{"t":1840,"a":2695},{"t":1865,"a":2670},{"t":1890,"a":2685},{"t":1915,"a":2675},{"t":1940,"a":2690},{"t":1965,"a":2668},{"t":1990,"a":2680},{"t":2015,"a":2672},{"t":2040,"a":2660},
{"t":1700,"a":2665},{"t":1730,"a":2700},{"t":1755,"a":2665},{"t":1780,"a":2705},{"t":1805,"a":2668},{"t":1830,"a":2680},{"t":1855,"a":2670},{"t":1880,"a":2698},{"t":1905,"a":2665},{"t":1930,"a":2665},{"t":1955,"a":2680},{"t":1980,"a":2690},{"t":2005,"a":2695},{"t":2030,"a":2685},
{"t":1725,"a":2672},{"t":1750,"a":2682},{"t":1775,"a":2680},{"t":1800,"a":2675},{"t":1825,"a":2665},{"t":1850,"a":2682},{"t":1875,"a":2678},{"t":1900,"a":2672},{"t":1925,"a":2685},{"t":1950,"a":2672},{"t":1975,"a":2678},{"t":2000,"a":2668},{"t":2025,"a":2665},{"t":1680,"a":2655},{"t":1720,"a":2650},{"t":1770,"a":2652},{"t":1820,"a":2648},{"t":1870,"a":2655},{"t":1920,"a":2650},{"t":1970,"a":2648},{"t":2020,"a":2652},
{"t":1660,"a":1865},{"t":1700,"a":1855},{"t":1740,"a":1868},{"t":1780,"a":1852},{"t":1820,"a":1866},{"t":1860,"a":1860},{"t":1900,"a":1855},{"t":1940,"a":1868},{"t":1980,"a":1862},{"t":2020,"a":1870},
{"t":2070,"a":2180},{"t":2120,"a":2175},{"t":2180,"a":2185},{"t":2230,"a":2178},{"t":2290,"a":2176},{"t":2340,"a":2183},{"t":2400,"a":2175},{"t":2450,"a":2180},{"t":2510,"a":2176},{"t":2560,"a":2175},
{"t":2296,"a":1755},{"t":2350,"a":1760},{"t":2500,"a":1765},{"t":2590,"a":1722},{"t":2228,"a":1715},{"t":2120,"a":1715},
{"t":2710,"a":1580},{"t":2740,"a":1572},{"t":2770,"a":1585},{"t":2800,"a":1560},{"t":2830,"a":1578},{"t":2860,"a":1570},{"t":2890,"a":1582},{"t":2920,"a":1565},{"t":2950,"a":1577},{"t":2980,"a":1568},{"t":3010,"a":1583},{"t":3040,"a":1572},{"t":3065,"a":1590},{"t":2725,"a":1565},{"t":2755,"a":1582},{"t":2815,"a":1585},{"t":2875,"a":1585},{"t":2935,"a":1585},{"t":2995,"a":1585},{"t":3055,"a":1580},
{"t":2733,"a":1545},{"t":2814,"a":1558},{"t":2917,"a":1560},{"t":2998,"a":1525},{"t":2700,"a":1555},
{"t":3080,"a":2290},{"t":3110,"a":2265},{"t":3140,"a":2295},{"t":3170,"a":2270},{"t":3200,"a":2255},{"t":3230,"a":2280},{"t":3260,"a":2262},{"t":3290,"a":2285},{"t":3320,"a":2270},{"t":3350,"a":2255},{"t":3380,"a":2275},{"t":3410,"a":2262},{"t":3440,"a":2280},{"t":3470,"a":2258},{"t":3500,"a":2272},{"t":3530,"a":2262},{"t":3560,"a":2278},{"t":3590,"a":2255},{"t":3620,"a":2270},{"t":3650,"a":2260},
{"t":3095,"a":2255},{"t":3155,"a":2285},{"t":3215,"a":2262},{"t":3275,"a":2258},{"t":3335,"a":2285},{"t":3395,"a":2290},{"t":3455,"a":2270},{"t":3515,"a":2285},{"t":3575,"a":2268},{"t":3635,"a":2280},
{"t":3085,"a":2270},{"t":3125,"a":2278},{"t":3185,"a":2262},{"t":3245,"a":2272},{"t":3305,"a":2258},{"t":3365,"a":2265},{"t":3425,"a":2272},{"t":3485,"a":2268},{"t":3545,"a":2272},{"t":3605,"a":2278},{"t":3665,"a":2270},{"t":3075,"a":2260},{"t":3135,"a":2258},{"t":3195,"a":2275},{"t":3255,"a":2282},{"t":3315,"a":2262},{"t":3375,"a":2258},{"t":3435,"a":2258},{"t":3495,"a":2258},{"t":3555,"a":2258},{"t":3615,"a":2258},
{"t":3100,"a":2000},{"t":3200,"a":2000},{"t":3300,"a":2000},{"t":3400,"a":2000},{"t":3500,"a":2000},{"t":3600,"a":2000},
{"t":3720,"a":1955},{"t":3760,"a":1950},{"t":3800,"a":1958},{"t":3850,"a":1952},{"t":3900,"a":1956},{"t":3950,"a":1953},{"t":4000,"a":1957},{"t":4050,"a":1960},{"t":4090,"a":1955}
]},
"mark":{"type":"square","size":3.5,"color":"#6600ff","opacity":1},
"encoding":{
"x":{"field":"t","type":"quantitative","axis":{"orient":"bottom","values":[100,200,300,400,600,700,800,900,1100,1200,1300,1400,1600,1700,1800,1900,2100,2200,2300,2400,2600,2700,2800,2900,3100,3200,3300,3400,3600,3700,3800,3900],"tickSize":-6,"labels":false,"domain":false,"title":null}},
"y":{"field":"a","type":"quantitative","axis":{"orient":"left","values":[1550,1650,1700,1750,1850,1900,1950,2050,2100,2150,2250,2300,2350,2450,2500,2550,2650,2700,2750,2850,2900],"tickSize":-9,"labels":false,"domain":false,"title":null}}
}},
{"data":{"values":[{"t":122,"a":2761,"label":"NCA"},{"t":1345,"a":2761,"label":"CA"},{"t":2156,"a":2761,"label":"Cath"},{"t":3104,"a":2761,"label":"GR"}]},
"mark":{"type":"text","font":"Liberation Sans","fontWeight":"bold","fontSize":41,"align":"left","baseline":"alphabetic","color":"#000"},
"encoding":{"x":{"field":"t","type":"quantitative","axis":null},"y":{"field":"a","type":"quantitative","axis":null},"text":{"field":"label"}}},
{"data":{"values":[{"t":3639,"a":2722,"label":"CA"}]},
"mark":{"type":"text","font":"Liberation Sans","fontWeight":"bold","fontSize":34,"align":"left","baseline":"alphabetic","color":"#000"},
"encoding":{"x":{"field":"t","type":"quantitative","axis":null},"y":{"field":"a","type":"quantitative","axis":null},"text":{"field":"label"}}}
]},
{"width":33,"height":462,"view":{"stroke":null},
"resolve":{"axis":{"y":"independent"}},
"layer":[
{"data":{"values":[
{"lo":10,"hi":15.85,"n":12.6},{"lo":15.85,"hi":25.12,"n":20},{"lo":25.12,"hi":39.81,"n":32},{"lo":39.81,"hi":63.1,"n":50},{"lo":63.1,"hi":100,"n":79},{"lo":100,"hi":158.5,"n":126},{"lo":158.5,"hi":251.2,"n":200},{"lo":251.2,"hi":398.1,"n":316},{"lo":398.1,"hi":631,"n":501},{"lo":631,"hi":1000,"n":794},{"lo":1000,"hi":1585,"n":1259},{"lo":1585,"hi":2512,"n":1995},{"lo":2512,"hi":3981,"n":3162},{"lo":3981,"hi":6310,"n":5012},{"lo":6310,"hi":10000,"n":7943},{"lo":10000,"hi":15849,"n":12589},{"lo":15849,"hi":25119,"n":19953},{"lo":25119,"hi":39811,"n":31623},{"lo":39811,"hi":63096,"n":50119},{"lo":63096,"hi":100000,"n":79433}
]},
"mark":{"type":"rect"},
"encoding":{
"y":{"field":"lo","type":"quantitative","scale":{"type":"log","domain":[10,104000],"nice":false},"axis":{"orient":"right","values":[100,1000,10000,100000],"tickSize":-19,"labels":false,"title":"number of events","titleAngle":-90,"titleAnchor":"end","titlePadding":62,"titleBaseline":"alphabetic","format":"d"}},
"y2":{"field":"hi"},
"color":{"field":"n","type":"quantitative","legend":null,"scale":{"type":"threshold","domain":[15.85,25.12,39.81,63.1,100,158.5,251.2,398.1,631,1000,1585,2512,3981,6310,10000,15849,25119,39811,63096],"range":["#6600ff","#3300ff","#0011ff","#0055ff","#0088ff","#00bbff","#00ffff","#00ffcc","#00ff99","#00ff66","#00ff33","#22ff00","#66ff00","#99ff00","#ddff00","#ffee00","#ffaa00","#ff7700","#ff3300","#ff0000"]}}
}},
{"data":{"values":[{"v":100,"base":"10","e":"2"},{"v":1000,"base":"10","e":"3"},{"v":10000,"base":"10","e":"4"},{"v":100000,"base":"10","e":"5"}]},
"mark":{"type":"text","font":"Liberation Sans","fontWeight":"bold","fontSize":19,"align":"left","baseline":"middle","dy":4,"color":"#000"},
"encoding":{"x":{"datum":1.24,"type":"quantitative","scale":{"domain":[0,1]},"axis":null},"y":{"field":"v","type":"quantitative","axis":{"orient":"right","values":[20,30,40,50,60,70,80,90,200,300,400,500,600,700,800,900,2000,3000,4000,5000,6000,7000,8000,9000,20000,30000,40000,50000,60000,70000,80000,90000],"tickSize":-9.5,"labels":false,"domain":false,"title":null}},"text":{"field":"base"}}},
{"data":{"values":[{"v":100,"e":"2"},{"v":1000,"e":"3"},{"v":10000,"e":"4"},{"v":100000,"e":"5"}]},
"mark":{"type":"text","font":"Liberation Sans","fontWeight":"bold","fontSize":16,"align":"left","baseline":"middle","dy":-3,"color":"#000"},
"encoding":{"x":{"datum":1.86,"type":"quantitative","axis":null},"y":{"field":"v","type":"quantitative","axis":null},"text":{"field":"e"}}}
]}
]
}
